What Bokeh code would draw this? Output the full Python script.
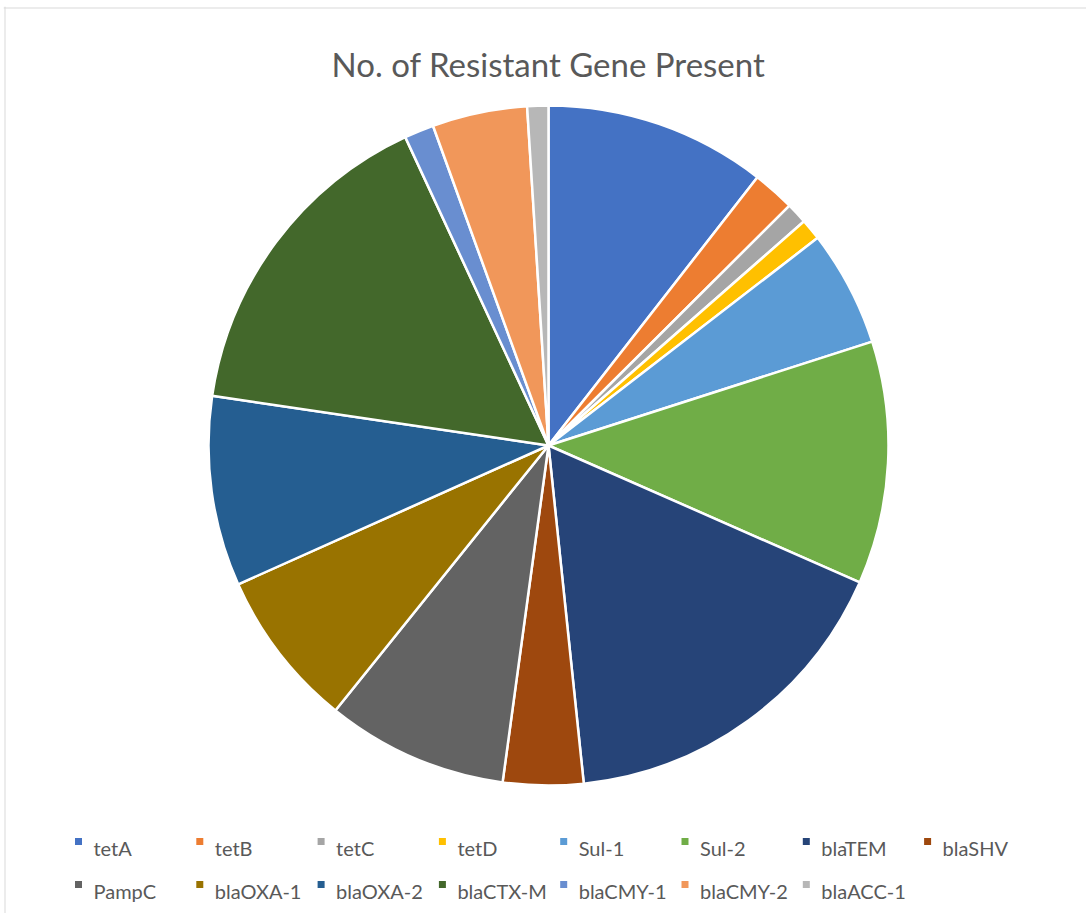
import math
from bokeh.plotting import figure
from bokeh.models import Range1d, ColumnDataSource, Span
from bokeh.core.properties import value
from bokeh.embed import file_html
from bokeh.resources import INLINE

title_text = "No. of Resistant Gene Present"
genes = ["tetA", "tetB", "tetC", "tetD", "Sul-1", "Sul-2", "blaTEM", "blaSHV",
         "PampC", "blaOXA-1", "blaOXA-2", "blaCTX-M", "blaCMY-1", "blaCMY-2", "blaACC-1"]
counts = [10.5, 2.0, 1.0, 1.0, 5.5, 11.5, 16.7, 3.8, 8.6, 7.5, 9.0, 15.7, 1.4, 4.5, 1.0]
colors = ["#4472C4", "#ED7D31", "#A5A5A5", "#FFC000", "#5B9BD5", "#70AD47", "#264478", "#9E480E",
          "#636363", "#997300", "#255E91", "#43682B", "#698ED0", "#F1975A", "#B7B7B7"]

W, H = 1086, 913
LEFT, TOP = 3, 6

def Y(py):
    return H - py

p = figure(width=W, height=H, output_backend="svg", toolbar_location=None,
           x_range=Range1d(LEFT, W), y_range=Range1d(0, H - TOP),
           x_axis_location=None, y_axis_location=None,
           min_border_left=LEFT, min_border_top=TOP, min_border_right=0, min_border_bottom=0)
p.grid.visible = False
p.outline_line_color = None
p.background_fill_color = "white"
p.border_fill_color = "white"

# chart-area border (left and top edges visible in the original)
p.add_layout(Span(location=4.5, dimension="height", line_color="#D9D9D9", line_width=1))
p.add_layout(Span(location=Y(7.5), dimension="width", line_color="#D9D9D9", line_width=1))

total = sum(counts)
starts, ends = [], []
cum = 0.0
for c in counts:
    starts.append(math.pi / 2 - 2 * math.pi * cum / total)
    cum += c
    ends.append(math.pi / 2 - 2 * math.pi * cum / total)

src = ColumnDataSource(dict(gene=genes, count=counts, color=colors, start=starts, end=ends))
p.wedge(x=548, y=Y(445), radius=340, start_angle="start", end_angle="end",
        direction="clock", fill_color="color", line_color="white", line_width=2.5, source=src)

# title
p.text(x=[548], y=[Y(63)], text=[title_text], text_align="center", text_baseline="alphabetic",
       text_font=value("Lato"), text_font_size="33px", text_color="#595959")

# legend (two rows, uniform column spacing as in the original)
per_row = 8
col_w = 121.3
lx, ly, lt = [], [], []
for i, g in enumerate(genes):
    r, c = divmod(i, per_row)
    lx.append(78 + c * col_w)
    ly.append(Y(841 + r * 43))
    lt.append(Y(847.5 + r * 43))
leg = ColumnDataSource(dict(x=lx, y=ly, ty=lt, tx=[v + 15 for v in lx], gene=genes, color=colors))
p.scatter(x="x", y="y", marker="square", size=7, fill_color="color", line_color=None, source=leg)
p.text(x="tx", y="ty", text="gene", text_align="left", text_baseline="alphabetic",
       text_font=value("Lato"), text_font_size="20px", text_color="#595959", source=leg)

open("out.html", "w").write(file_html(p, INLINE))
